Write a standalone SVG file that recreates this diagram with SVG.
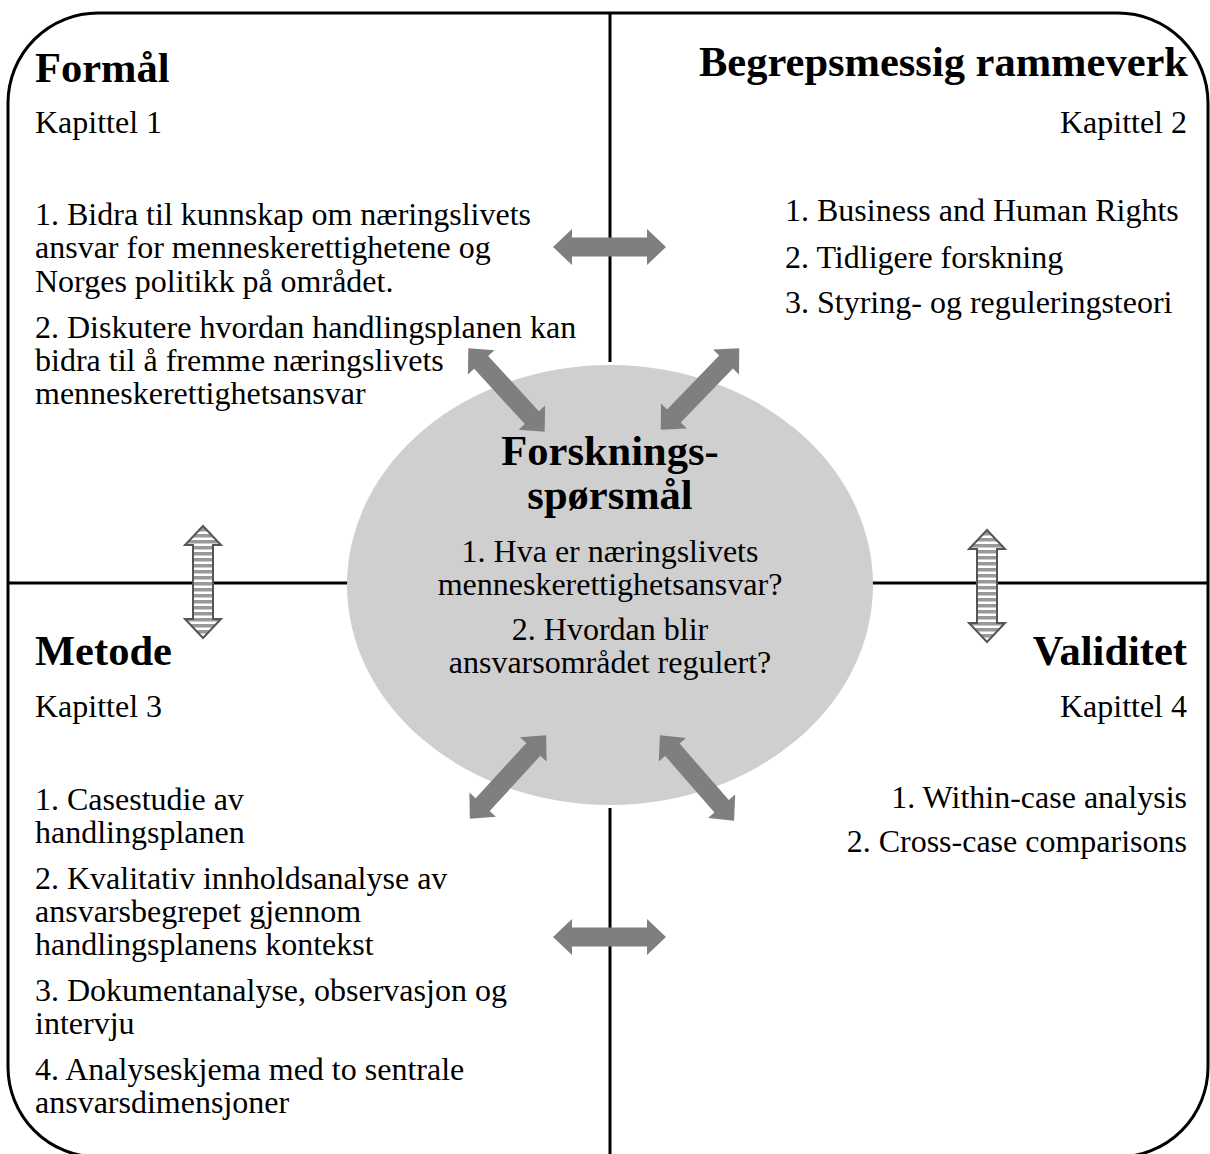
<svg xmlns="http://www.w3.org/2000/svg" width="1210" height="1154" viewBox="0 0 1210 1154">
<defs>
<style>
text{font-family:"Liberation Serif","Times New Roman",serif;fill:#000}
.t{font-size:32px}
.h{font-size:42.5px;font-weight:bold}
.r{text-anchor:end}
.c{text-anchor:middle}
.ln{stroke:#000;stroke-width:3;fill:none}
.ar{fill:#7f7f7f}
.sa{fill:url(#stripes);stroke:#555;stroke-width:2}
</style>
<pattern id="stripes" patternUnits="userSpaceOnUse" width="10" height="6">
<rect width="10" height="6" fill="#fff"/>
<rect width="10" height="3.5" fill="#999"/>
</pattern>
<polygon id="dbl" points="-56.5,0 -37.5,-18 -37.5,-9.5 37.5,-9.5 37.5,-18 56.5,0 37.5,18 37.5,9.5 -37.5,9.5 -37.5,18"/>
<polygon id="vdbl" points="0,-56 18,-37 10,-37 10,37 18,37 0,56 -18,37 -10,37 -10,-37 -18,-37"/>
</defs>
<rect width="1210" height="1154" fill="#fff"/>
<g id="frame">
<rect class="ln" x="8" y="13" width="1200" height="1144" rx="90" ry="90"/>
<line class="ln" x1="610" y1="13" x2="610" y2="362"/>
<line class="ln" x1="610" y1="808" x2="610" y2="1157"/>
<line class="ln" x1="8" y1="583" x2="348" y2="583"/>
<line class="ln" x1="872" y1="583" x2="1208" y2="583"/>
</g>
<g id="center">
<ellipse cx="610" cy="585" rx="263" ry="220" fill="#d0cfd0"/>
<text class="h c" x="610" y="465">Forsknings-</text>
<text class="h c" x="610" y="509">spørsmål</text>
<text class="t c" x="610" y="562">1. Hva er næringslivets</text>
<text class="t c" x="610" y="595">menneskerettighetsansvar?</text>
<text class="t c" x="610" y="640">2. Hvordan blir</text>
<text class="t c" x="610" y="673">ansvarsområdet regulert?</text>
</g>
<g id="formal">
<text class="h" x="35" y="82">Formål</text>
<text class="t" x="35" y="133">Kapittel 1</text>
<text class="t" x="35" y="225">1. Bidra til kunnskap om næringslivets</text>
<text class="t" x="35" y="258">ansvar for menneskerettighetene og</text>
<text class="t" x="35" y="292">Norges politikk på området.</text>
<text class="t" x="35" y="338">2. Diskutere hvordan handlingsplanen kan</text>
<text class="t" x="35" y="371">bidra til å fremme næringslivets</text>
<text class="t" x="35" y="404">menneskerettighetsansvar</text>
</g>
<g id="rammeverk">
<text class="h r" x="1188" y="76">Begrepsmessig rammeverk</text>
<text class="t r" x="1187" y="133">Kapittel 2</text>
<text class="t" x="785" y="221">1. Business and Human Rights</text>
<text class="t" x="785" y="268">2. Tidligere forskning</text>
<text class="t" x="785" y="313">3. Styring- og reguleringsteori</text>
</g>
<g id="metode">
<text class="h" x="35" y="665">Metode</text>
<text class="t" x="35" y="717">Kapittel 3</text>
<text class="t" x="35" y="810">1. Casestudie av</text>
<text class="t" x="35" y="843">handlingsplanen</text>
<text class="t" x="35" y="889">2. Kvalitativ innholdsanalyse av</text>
<text class="t" x="35" y="922">ansvarsbegrepet gjennom</text>
<text class="t" x="35" y="955">handlingsplanens kontekst</text>
<text class="t" x="35" y="1001">3. Dokumentanalyse, observasjon og</text>
<text class="t" x="35" y="1034">intervju</text>
<text class="t" x="35" y="1080">4. Analyseskjema med to sentrale</text>
<text class="t" x="35" y="1113">ansvarsdimensjoner</text>
</g>
<g id="validitet">
<text class="h r" x="1187" y="665">Validitet</text>
<text class="t r" x="1187" y="717">Kapittel 4</text>
<text class="t r" x="1187" y="808">1. Within-case analysis</text>
<text class="t r" x="1187" y="852">2. Cross-case comparisons</text>
</g>
<g id="connectors">
<use href="#dbl" class="ar" transform="translate(609.5,247)"/>
<use href="#dbl" class="ar" transform="translate(609.5,937)"/>
<use href="#dbl" class="ar" transform="translate(506.5,390) rotate(47.5)"/>
<use href="#dbl" class="ar" transform="translate(700,389) rotate(-46)"/>
<use href="#dbl" class="ar" transform="translate(508,777) rotate(-47.5)"/>
<use href="#dbl" class="ar" transform="translate(697,778) rotate(49)"/>
<use href="#vdbl" class="sa" transform="translate(203,582)"/>
<use href="#vdbl" class="sa" transform="translate(987,586)"/>
</g>
</svg>
